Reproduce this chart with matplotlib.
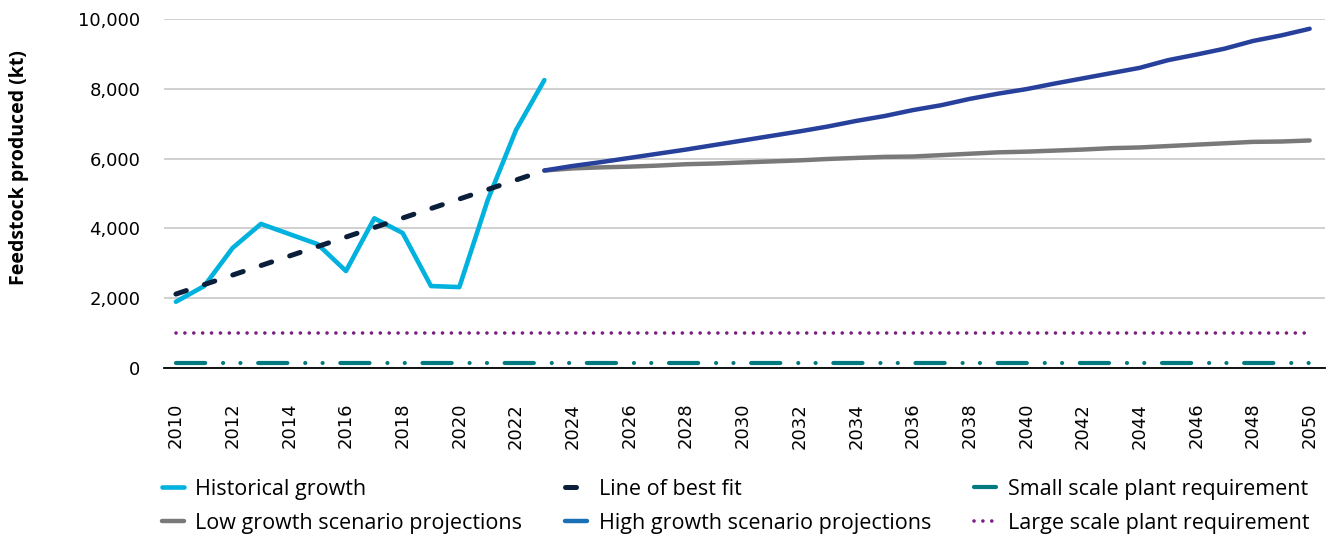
import matplotlib.pyplot as plt
from matplotlib.ticker import FuncFormatter

# historical feedstock output (kt)
hist_years = list(range(2010, 2024))
hist_values = [1900, 2350, 3440, 4130, 3840, 3550, 2780, 4290, 3870, 2350, 2320, 4810, 6820, 8250]

# linear trend through the historical data
fit_years = [2010, 2023]
fit_values = [2120, 5660]

# scenario projections
proj_years = list(range(2023, 2051))
low_values = [5660, 5720, 5750, 5770, 5800, 5840, 5860, 5890, 5920, 5950, 5990, 6020, 6050, 6060,
              6100, 6140, 6180, 6200, 6230, 6260, 6300, 6320, 6360, 6400, 6440, 6480, 6490, 6520]
high_values = [5660, 5790, 5900, 6020, 6140, 6260, 6390, 6520, 6650, 6780, 6920, 7080, 7220, 7390,
               7530, 7710, 7860, 7990, 8150, 8300, 8450, 8600, 8820, 8980, 9150, 9370, 9530, 9720]

# plant feedstock requirements
plant_years = [2010, 2050]
small_plant = [150, 150]
large_plant = [1000, 1000]

year_ticks = list(range(2010, 2051, 2))

plt.rcParams['font.family'] = ['DejaVu Sans']

fig = plt.figure(figsize=(13.3, 5.35), dpi=100)
ax = fig.add_axes([0.1233, 0.312, 0.8727, 0.6525])

l_large, = ax.plot(plant_years, large_plant, color='#7A1F81', lw=2.6, linestyle=(0, (0.01, 2.45)),
                   dash_capstyle='round', label='Large scale plant requirement')
l_small, = ax.plot(plant_years, small_plant, color='#00797F', lw=3.0,
                   linestyle=(0, (7.0, 4.3, 0.01, 4.15, 0.01, 4.25)),
                   dash_capstyle='round', label='Small scale plant requirement')
l_low, = ax.plot(proj_years, low_values, color='#797979', lw=3.2, solid_capstyle='round',
                 label='Low growth scenario projections')
l_high, = ax.plot(proj_years, high_values, color='#26409B', lw=3.2, solid_capstyle='round',
                  label='High growth scenario projections')
l_hist, = ax.plot(hist_years, hist_values, color='#00B2DD', lw=3.3, solid_capstyle='round',
                  label='Historical growth')
l_fit, = ax.plot(fit_years, fit_values, color='#0B1F3B', lw=3.6, linestyle=(0, (2.2, 3.8)),
                 dash_capstyle='round', label='Line of best fit')

ax.set_xlim(2009.58, 2050.53)
ax.set_ylim(0, 10000)
ax.set_yticks([0, 2000, 4000, 6000, 8000, 10000])
ax.yaxis.set_major_formatter(FuncFormatter(lambda v, p: f'{v:,.0f}'))
ax.set_xticks(year_ticks)
ax.tick_params(axis='x', rotation=90, length=0, pad=25, labelsize=13)
ax.tick_params(axis='y', length=0, pad=17, labelsize=13)
ax.grid(axis='y', color='#C8C8C8', lw=1.2)
ax.set_axisbelow(True)
for side in ['top', 'right', 'left']:
    ax.spines[side].set_visible(False)
ax.spines['bottom'].set_color('black')
ax.spines['bottom'].set_linewidth(1.3)
ax.spines['bottom'].set_zorder(1)

ax.set_ylabel('Feedstock produced (kt)', fontsize=14, fontweight='bold', family='Open Sans')
ax.yaxis.set_label_coords(-0.1165, 0.574)

handles = [l_hist, l_low, l_fit, l_high, l_small, l_large]
leg = fig.legend(handles=handles, loc='upper left', bbox_to_anchor=(0.1218, 0.105),
                 ncol=3, frameon=False, prop={'family': 'Open Sans', 'size': 15.5},
                 handlelength=1.0, handletextpad=0.55, columnspacing=2.0, labelspacing=0.6,
                 borderaxespad=0, borderpad=0)
leg.get_lines()[3].set_color('#1B70B5')

fig.savefig('out.png', dpi=100)
